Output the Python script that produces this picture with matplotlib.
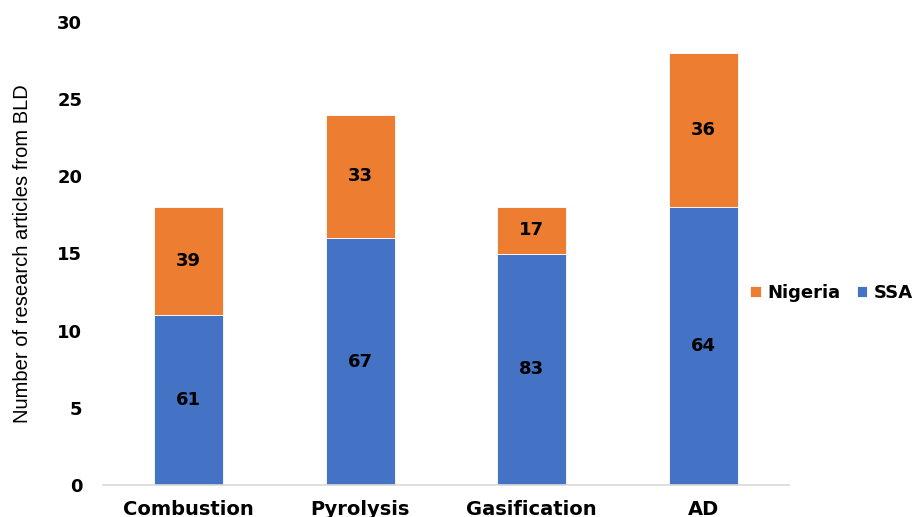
import matplotlib
matplotlib.use("Agg")
import matplotlib.pyplot as plt
import numpy as np

categories = ["Combustion", "Pyrolysis", "Gasification", "AD"]
ssa = [11, 16, 15, 18]
nigeria = [7, 8, 3, 10]
yticks = [0, 5, 10, 15, 20, 25, 30]

plt.rcParams['font.family'] = ['Liberation Sans', 'DejaVu Sans']
BOLD = ['DejaVu Sans']

fig = plt.figure(figsize=(9.22, 5.17), dpi=100)
ax = fig.add_axes([103/922, 32/517, (789-103)/922, (485-22)/517])

x = np.arange(len(categories))
ssa_arr = np.array(ssa, dtype=float)
nig_arr = np.array(nigeria, dtype=float)
total = ssa_arr + nig_arr
width = 0.4

b1 = ax.bar(x, ssa_arr, width, color="#4472C4", label="SSA", edgecolor="white", linewidth=0.6)
b2 = ax.bar(x, nig_arr, width, bottom=ssa_arr, color="#ED7D31", label="Nigeria", edgecolor="white", linewidth=0.6)

ssa_pct = np.round(ssa_arr / total * 100).astype(int)
nig_pct = np.round(nig_arr / total * 100).astype(int)
for i in range(len(categories)):
    ax.text(x[i], ssa_arr[i] / 2, str(ssa_pct[i]), ha="center", va="center",
            fontsize=13, fontweight="bold", family=BOLD, color="black")
    ax.text(x[i], ssa_arr[i] + nig_arr[i] / 2, str(nig_pct[i]), ha="center", va="center",
            fontsize=13, fontweight="bold", family=BOLD, color="black")

ax.set_xlim(-0.5, len(categories) - 0.5)
ax.set_ylim(0, 30)
ax.set_yticks(yticks)
ax.set_yticklabels([str(t) for t in yticks], fontsize=13, fontweight="bold", family=BOLD)
ax.set_xticks(x)
ax.set_xticklabels(categories, fontsize=14, fontweight="bold", family=BOLD)
ax.tick_params(axis="both", length=0)
ax.tick_params(axis="y", pad=15)
ax.tick_params(axis="x", pad=11)

for side in ["top", "right", "left"]:
    ax.spines[side].set_visible(False)
ax.spines["bottom"].set_color("#D9D9D9")
ax.spines["bottom"].set_linewidth(1.2)

ax.set_ylabel("Number of research articles from BLD", fontsize=14.5, labelpad=18)

ax.legend(handles=[b2, b1], labels=["Nigeria", "SSA"], loc="center left",
          bbox_to_anchor=(0.93, 0.415), ncol=2, frameon=False,
          prop={"weight": "bold", "size": 13, "family": BOLD},
          handlelength=0.6, handleheight=0.6,
          handletextpad=0.35, columnspacing=0.9, borderpad=0)

fig.savefig("out.png", dpi=100)
